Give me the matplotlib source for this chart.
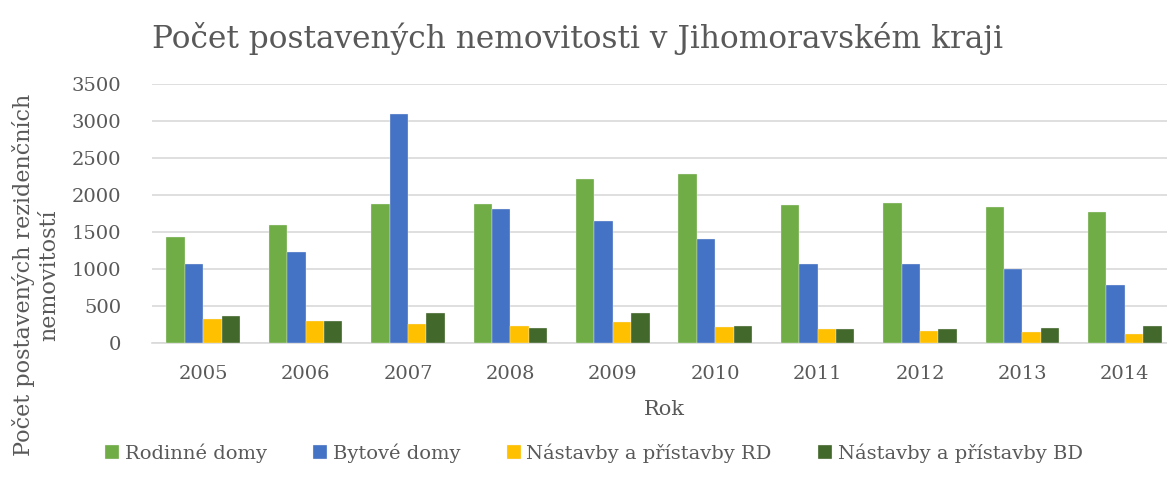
import numpy as np
import matplotlib.pyplot as plt

years = ['2005', '2006', '2007', '2008', '2009', '2010', '2011', '2012', '2013', '2014']
rodinne = [1432, 1599, 1878, 1883, 2216, 2279, 1860, 1887, 1836, 1777]
bytove = [1072, 1225, 3095, 1815, 1644, 1410, 1063, 1072, 1005, 784]
nastavby_rd = [329, 297, 252, 234, 288, 216, 189, 162, 144, 117]
nastavby_bd = [365, 297, 401, 198, 405, 230, 194, 189, 201, 234]

series = [
    ('Rodinné domy', rodinne, '#70AD47'),
    ('Bytové domy', bytove, '#4472C4'),
    ('Nástavby a přístavby RD', nastavby_rd, '#FFC000'),
    ('Nástavby a přístavby BD', nastavby_bd, '#43682B'),
]

plt.rcParams['font.family'] = ['DejaVu Serif']
text_col = '#595959'
grid_col = '#D9D9D9'

fig = plt.figure(figsize=(11.67, 4.93), dpi=100)
ax = fig.add_axes([152 / 1167, 1 - 343 / 493, 1024 / 1167, 259 / 493])

x = np.arange(len(years))
w = 0.18
for i, (name, vals, col) in enumerate(series):
    ax.bar(x + (i - 1.5) * w, vals, width=w, color=col, label=name,
           edgecolor='#F2F2F2', linewidth=0.25, zorder=3)

ax.set_xlim(-0.5, len(years) - 0.5)
ax.set_ylim(0, 3500)
ax.set_yticks(np.arange(0, 3501, 500))
ax.set_xticks(x)
ax.set_xticklabels(years)
ax.yaxis.grid(True, color=grid_col, linewidth=1.2, zorder=0)
for s in ['top', 'right', 'left']:
    ax.spines[s].set_visible(False)
ax.spines['bottom'].set_color(grid_col)
ax.spines['bottom'].set_linewidth(1.2)
ax.tick_params(length=0, labelsize=14, colors=text_col)
ax.tick_params(axis='x', pad=16)
ax.tick_params(axis='y', pad=22)

ax.set_xlabel('Rok', fontsize=15, color=text_col, labelpad=12)
fig.text(0.031, 0.442, 'Počet postavených rezidenčních\nnemovitostí', rotation=90,
         ha='center', va='center', fontsize=16, color=text_col, multialignment='center')

fig.text(152 / 1167, 0.921, 'Počet postavených nemovitosti v Jihomoravském kraji',
         fontsize=22.5, color=text_col, ha='left', va='center')

fig.legend(loc='center', bbox_to_anchor=(0.509, 0.081), ncol=4, frameon=False,
           fontsize=14, labelcolor=text_col, handlelength=0.7, handleheight=0.7,
           handletextpad=0.3, columnspacing=2.4)

fig.savefig('out.png', dpi=100)
